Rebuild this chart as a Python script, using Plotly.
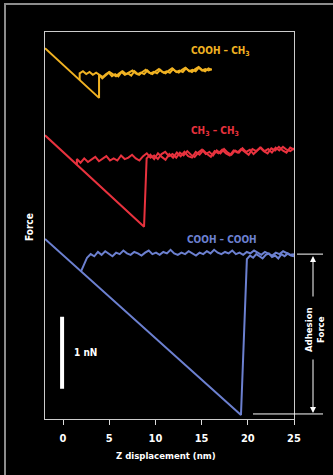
import numpy as np
import plotly.graph_objects as go

# ---------------- data (x in nm, force in nN) ----------------
x_ticks = [0, 5, 10, 15, 20, 25]

# COOH - CH3 (yellow)
yel_contact_x = [-1.95, 3.9]
yel_contact_y = [5.15, 4.46]
yel_jump_y = 4.77
yel_ret_range = [3.9, 16.1]
yel_ret_y = [4.78, 4.73, 4.77, 4.81, 4.76, 4.79, 4.76, 4.82, 4.78, 4.80, 4.77, 4.83,
             4.79, 4.81, 4.79, 4.84, 4.80, 4.82, 4.80, 4.85, 4.81, 4.83, 4.81, 4.86,
             4.82, 4.84, 4.82, 4.87, 4.83, 4.85, 4.83, 4.88, 4.84, 4.86, 4.84, 4.86]
yel_app_join = [1.8, 4.71]
yel_app_range = [1.8, 16.1]
yel_app_y = [4.80, 4.83, 4.79, 4.82, 4.78, 4.81, 4.78, 4.75, 4.79, 4.82, 4.79, 4.76,
             4.80, 4.83, 4.79, 4.81, 4.84, 4.80, 4.78, 4.82, 4.85, 4.81, 4.79, 4.83,
             4.86, 4.82, 4.80, 4.84, 4.87, 4.83, 4.81, 4.85, 4.88, 4.84, 4.82, 4.86,
             4.89, 4.85, 4.83, 4.87, 4.85]

# CH3 - CH3 (red)
red_contact_x = [-1.95, 8.77]
red_contact_y = [3.94, 2.67]
red_ret_range = [9.05, 25.0]
red_ret_y = [3.62, 3.67, 3.61, 3.69, 3.64, 3.60, 3.68, 3.63, 3.70, 3.65, 3.71, 3.65,
             3.63, 3.71, 3.67, 3.73, 3.68, 3.64, 3.72, 3.69, 3.74, 3.69, 3.66, 3.73,
             3.70, 3.75, 3.71, 3.67, 3.75, 3.72, 3.77, 3.72, 3.69, 3.76, 3.73, 3.78,
             3.73, 3.70, 3.77, 3.74]
red_app_join = [1.5, 3.53]
red_app_range = [1.5, 25.0]
red_app_y = [3.61, 3.56, 3.62, 3.57, 3.60, 3.64, 3.58, 3.61, 3.65, 3.59, 3.62, 3.59,
             3.66, 3.61, 3.63, 3.67, 3.62, 3.59, 3.65, 3.69, 3.63, 3.66, 3.61, 3.68,
             3.71, 3.65, 3.68, 3.63, 3.70, 3.66, 3.72, 3.67, 3.64, 3.70, 3.74, 3.68,
             3.71, 3.66, 3.73, 3.69, 3.75, 3.70, 3.67, 3.73, 3.70, 3.76, 3.71, 3.74,
             3.68, 3.73, 3.77, 3.72, 3.75, 3.70, 3.77, 3.73, 3.78, 3.74, 3.72, 3.76]

# COOH - COOH (blue)
blu_contact_x = [-1.95, 19.26]
blu_contact_y = [2.50, 0.056]
blu_ret_range = [19.9, 25.0]
blu_ret_y = [2.22, 2.27, 2.24, 2.29, 2.26, 2.23, 2.28, 2.30, 2.25, 2.27, 2.23, 2.29,
             2.26, 2.30, 2.27, 2.26]
blu_app_join_x = [1.95, 2.2]
blu_app_join_y = [2.05, 2.12]
blu_app_range = [2.6, 25.0]
blu_app_y = [2.24, 2.29, 2.26, 2.32, 2.28, 2.33, 2.29, 2.26, 2.31, 2.29, 2.34, 2.30,
             2.28, 2.32, 2.30, 2.27, 2.31, 2.34, 2.29, 2.31, 2.28, 2.32, 2.30, 2.35,
             2.30, 2.28, 2.31, 2.29, 2.33, 2.30, 2.27, 2.31, 2.29, 2.33, 2.30, 2.35,
             2.31, 2.29, 2.32, 2.30, 2.34, 2.29, 2.31, 2.28, 2.32, 2.30, 2.34, 2.31,
             2.28, 2.32, 2.30, 2.27, 2.31, 2.29, 2.33, 2.30, 2.28, 2.29]

adhesion_top = 2.29
adhesion_bottom = 0.07
scale_bar_x = -0.1
scale_bar_y = [0.42, 1.42]

# ---------------- styles ----------------
YEL = "#F0B222"
RED = "#E8323E"
BLU = "#6C80D0"
FONT = "Liberation Sans Narrow, DejaVu Sans Condensed, Arial Narrow, sans-serif"

fig = go.Figure()


def add(x, y, color):
    fig.add_trace(go.Scatter(x=x, y=y, mode="lines",
                             line=dict(color=color, width=2),
                             hoverinfo="skip", showlegend=False))


def grid(rng, vals):
    return list(np.linspace(rng[0], rng[1], len(vals)))


# yellow
add(yel_contact_x + [yel_contact_x[1]] + grid(yel_ret_range, yel_ret_y),
    yel_contact_y + [yel_jump_y] + yel_ret_y, YEL)
add([yel_app_join[0]] + grid(yel_app_range, yel_app_y),
    [yel_app_join[1]] + yel_app_y, YEL)
# red
add(red_contact_x + grid(red_ret_range, red_ret_y),
    red_contact_y + red_ret_y, RED)
add([red_app_join[0]] + grid(red_app_range, red_app_y),
    [red_app_join[1]] + red_app_y, RED)
# blue
add(blu_contact_x + grid(blu_ret_range, blu_ret_y),
    blu_contact_y + blu_ret_y, BLU)
add(blu_app_join_x + grid(blu_app_range, blu_app_y),
    blu_app_join_y + blu_app_y, BLU)

W, H = 333, 475
L, R, T, B = 45, 39, 32, 56
PW, PH = W - L - R, H - T - B


def px(x):
    return (x - L) / PW


def py(y):
    return (H - B - y) / PH


shapes = [
    # outer frame
    dict(type="rect", xref="paper", yref="paper", x0=px(5), x1=px(345),
         y0=py(490), y1=py(4), line=dict(color="#8c8c8c", width=2)),
    # scale bar
    dict(type="line", xref="x", yref="y", x0=scale_bar_x, x1=scale_bar_x,
         y0=scale_bar_y[0], y1=scale_bar_y[1], line=dict(color="white", width=4)),
    # adhesion lines
    dict(type="line", xref="paper", yref="y", x0=px(297), x1=px(323),
         y0=adhesion_top, y1=adhesion_top, line=dict(color="white", width=1)),
    dict(type="line", xref="paper", yref="y", x0=px(253), x1=px(323),
         y0=adhesion_bottom, y1=adhesion_bottom, line=dict(color="white", width=1)),
]


def txt(x, y, text, color="white", size=10, angle=0, xref="paper", yref="paper",
        xanchor="center"):
    return dict(x=x, y=y, xref=xref, yref=yref, text=text, showarrow=False,
                xanchor=xanchor, yanchor="middle", textangle=angle,
                font=dict(color=color, size=size, family=FONT))


ann = [
    txt(17.0, 5.11, "<b>COOH – CH<sub>3</sub></b>", YEL, 10, xref="x", yref="y"),
    txt(16.5, 3.99, "<b>CH<sub>3</sub> – CH<sub>3</sub></b>", RED, 10, xref="x", yref="y"),
    txt(17.2, 2.50, "<b>COOH – COOH</b>", BLU, 10, xref="x", yref="y"),
    txt(0.97, 0.92, "<b>1 nN</b>", "white", 10, xref="x", yref="y", xanchor="left"),
    txt(px(29), py(227), "<b>Force</b>", "white", 10, angle=-90),
    txt(px(166), py(455), "<b>Z displacement (nm)</b>", "white", 9.5),
    txt(px(314), py(330), "<b>Adhesion<br>Force</b>", "white", 9.5, angle=-90),
    # arrows
    dict(x=px(313), y=py(256), xref="paper", yref="paper", text="", showarrow=True,
         ax=0, ay=42, arrowhead=2, arrowsize=1.2, arrowwidth=1, arrowcolor="white"),
    dict(x=px(313), y=py(413), xref="paper", yref="paper", text="", showarrow=True,
         ax=0, ay=-55, arrowhead=2, arrowsize=1.2, arrowwidth=1, arrowcolor="white"),
]

fig.update_layout(
    width=W, height=H,
    margin=dict(l=L, r=R, t=T, b=B),
    paper_bgcolor="black", plot_bgcolor="black",
    shapes=shapes, annotations=ann,
    xaxis=dict(range=[-1.95, 25], tickvals=x_ticks, ticks="outside", ticklen=5,
               tickcolor="#dddddd", showgrid=False, zeroline=False,
               showline=True, linecolor="#cccccc", linewidth=1, mirror=True,
               ticklabelstandoff=4,
               tickfont=dict(color="white", size=11, family=FONT, weight="bold")),
    yaxis=dict(range=[0, PH / 72.0], showticklabels=False, ticks="", showgrid=False,
               zeroline=False, showline=True, linecolor="#cccccc", linewidth=1,
               mirror=True),
)

fig.write_html("out.html", config={"displayModeBar": False},
               post_script="document.body.style.margin='0px';document.body.style.background='black';")
